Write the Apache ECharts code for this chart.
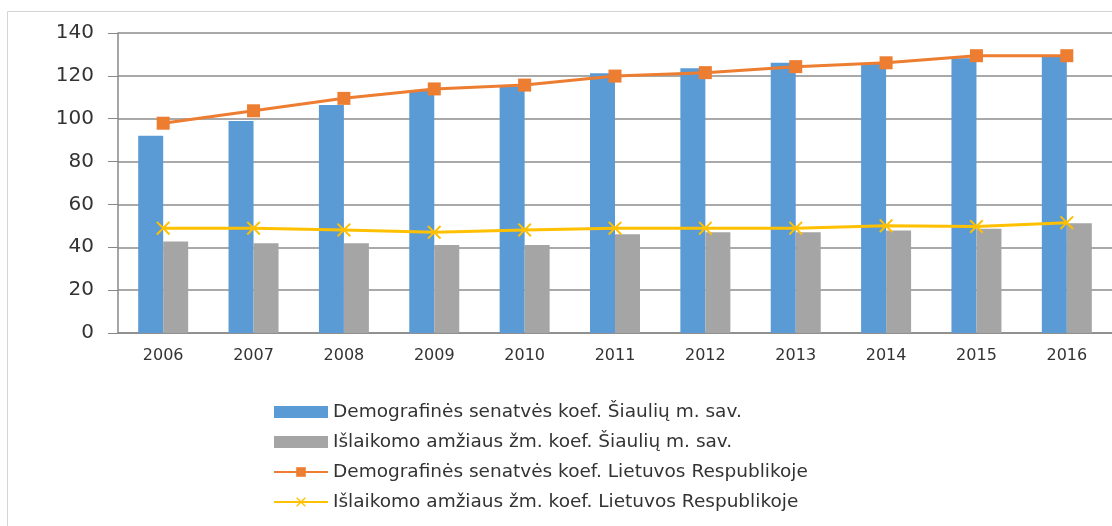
<!DOCTYPE html>
<html>
<head>
<meta charset="utf-8">
<style>
    html, body { margin: 0; padding: 0; background: #fff; }
    #chart { width: 1112px; height: 526px; }
</style>
</head>
<body>
<div id="chart"></div>
<script src="https://cdn.jsdelivr.net/npm/echarts@6/dist/echarts.min.js"></script>
<script>
    // metai
    var years = ['2006', '2007', '2008', '2009', '2010', '2011', '2012', '2013', '2014', '2015', '2016'];
    var yTicks = [0, 20, 40, 60, 80, 100, 120, 140];

    // Šiaulių m. sav.
    var senatvesSiauliai = [92.1, 98.9, 106.4, 113.4, 115, 121.2, 123.5, 126.1, 125.5, 128.2, 129];
    var islaikomoSiauliai = [42.7, 41.9, 41.9, 41.1, 41.1, 46.1, 47, 47, 47.8, 48.7, 51.2];
    // Lietuvos Respublika
    var senatvesLR = [97.9, 103.7, 109.5, 113.9, 115.7, 119.9, 121.5, 124.3, 126.1, 129.4, 129.4];
    var islaikomoLR = [48.9, 48.9, 48.1, 47, 48.1, 48.9, 48.9, 48.9, 50, 49.7, 51.5];

    var names = [
        'Demografinės senatvės koef. Šiaulių m. sav.',
        'Išlaikomo amžiaus žm. koef. Šiaulių m. sav.',
        'Demografinės senatvės koef. Lietuvos Respublikoje',
        'Išlaikomo amžiaus žm. koef. Lietuvos Respublikoje'
    ];

    var font = '"DejaVu Sans", Verdana, sans-serif';
    var crossSymbol = 'path://M0,1L1,0L5,4L9,0L10,1L6,5L10,9L9,10L5,6L1,10L0,9L4,5Z';

    var option = {
        animation: false,
        backgroundColor: '#fff',
        graphic: [{
            type: 'rect',
            shape: { x: 7.5, y: 11.5, width: 1200, height: 600 },
            style: { fill: 'none', stroke: '#d4d4d4', lineWidth: 1 },
            z: -1
        }],
        grid: { left: 118, right: -6, top: 33, bottom: 193 },
        legend: {
            orient: 'vertical',
            left: 268,
            top: 396,
            itemWidth: 54,
            itemHeight: 12,
            itemGap: 8,
            textStyle: { fontFamily: font, fontSize: 18.5, color: '#333', lineHeight: 22 },
            data: [
                { name: names[0], icon: 'rect' },
                { name: names[1], icon: 'rect' },
                { name: names[2] },
                { name: names[3] }
            ]
        },
        xAxis: {
            type: 'category',
            data: years,
            axisLine: { lineStyle: { color: '#888', width: 1.5 } },
            axisTick: { length: 6, lineStyle: { color: '#888' } },
            axisLabel: { fontFamily: font, fontSize: 16, color: '#333', margin: 15 }
        },
        yAxis: {
            type: 'value',
            min: yTicks[0],
            max: yTicks[yTicks.length - 1],
            interval: 20,
            axisLine: { show: true, lineStyle: { color: '#888', width: 1.5 } },
            axisTick: { show: true, length: 10, lineStyle: { color: '#888' } },
            splitLine: { lineStyle: { color: '#8c8c8c', width: 1.5 } },
            axisLabel: { fontFamily: font, fontSize: 20, color: '#333', margin: 24 }
        },
        series: [{
            name: names[0],
            type: 'bar',
            data: senatvesSiauliai,
            itemStyle: { color: '#5b9bd5' },
            barWidth: 25,
            barGap: '0%'
        }, {
            name: names[1],
            type: 'bar',
            data: islaikomoSiauliai,
            itemStyle: { color: '#a5a5a5' },
            barWidth: 25,
            barGap: '0%'
        }, {
            name: names[2],
            type: 'line',
            data: senatvesLR,
            symbol: 'rect',
            symbolSize: 13,
            lineStyle: { color: '#ed7d31', width: 3 },
            itemStyle: { color: '#ed7d31' }
        }, {
            name: names[3],
            type: 'line',
            data: islaikomoLR,
            symbol: crossSymbol,
            symbolSize: 14,
            lineStyle: { color: '#ffc000', width: 3 },
            itemStyle: { color: '#ffc000' }
        }]
    };

    echarts.init(document.getElementById('chart')).setOption(option);
</script>
</body>
</html>
